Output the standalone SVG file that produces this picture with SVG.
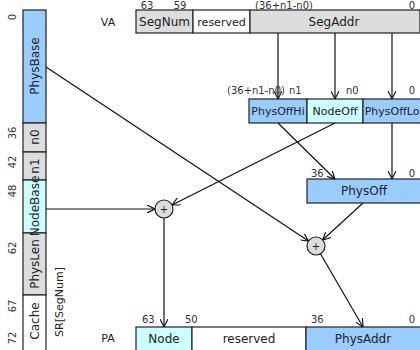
<svg xmlns="http://www.w3.org/2000/svg" width="420" height="350" viewBox="0 0 420 350">
<style>
  .box{stroke:#222;stroke-width:1.2}
  .blue{fill:#99CCFF}
  .cyan{fill:#CCFFFF}
  .grey{fill:#DDDDDD}
  .white{fill:#FFFFFF}
  text{font-family:"DejaVu Sans","Liberation Sans",sans-serif;fill:#222}
  .lbl{font-size:12px;text-anchor:middle;dominant-baseline:central}
  .sm{font-size:11px}
  .bit{font-size:10px;fill:#333}
  .mid{text-anchor:middle}
  .conn{stroke:#111;stroke-width:1.2;fill:none;marker-end:url(#arr)}
  .op{fill:#DDDDDD;stroke:#222;stroke-width:1.2}
</style>
<defs>
  <marker id="arr" viewBox="0 0 10 10" refX="10" refY="5" markerWidth="8" markerHeight="8" markerUnits="userSpaceOnUse" orient="auto">
    <path d="M0,0 L10,5 L0,10" fill="none" stroke="#111" stroke-width="1.4"/>
  </marker>
</defs>
<rect width="420" height="350" fill="#fff"/>

<g id="sr">
  <rect class="box blue" x="23" y="10" width="23" height="113"/>
  <rect class="box grey" x="23" y="123" width="23" height="29"/>
  <rect class="box grey" x="23" y="152" width="23" height="28"/>
  <rect class="box cyan" x="23" y="180" width="23" height="53"/>
  <rect class="box grey" x="23" y="233" width="23" height="62"/>
  <rect class="box white" x="23" y="295" width="23" height="58"/>
  <text class="lbl" transform="translate(35,66) rotate(-90)">PhysBase</text>
  <text class="lbl" transform="translate(35,137) rotate(-90)">n0</text>
  <text class="lbl" transform="translate(35,166) rotate(-90)">n1</text>
  <text class="lbl" transform="translate(35,206) rotate(-90)">NodeBase</text>
  <text class="lbl" transform="translate(35,264) rotate(-90)">PhysLen</text>
  <text class="lbl" transform="translate(35,321) rotate(-90)">Cache</text>
  <g>
    <text class="bit mid" transform="translate(16,17) rotate(-90)">0</text>
    <text class="bit mid" transform="translate(16,133) rotate(-90)">36</text>
    <text class="bit mid" transform="translate(16,162) rotate(-90)">42</text>
    <text class="bit mid" transform="translate(16,191) rotate(-90)">48</text>
    <text class="bit mid" transform="translate(16,248) rotate(-90)">62</text>
    <text class="bit mid" transform="translate(16,306) rotate(-90)">67</text>
    <text class="bit mid" transform="translate(16,338) rotate(-90)">72</text>
  </g>
  <text class="lbl" style="font-size:11px" transform="translate(59,302) rotate(-90)">SR[SegNum]</text>
</g>

<g id="va">
  <text x="108" y="22" class="mid" style="font-size:11px;dominant-baseline:central">VA</text>
  <rect class="box grey" x="136" y="10" width="57" height="23"/>
  <rect class="box white" x="193" y="10" width="57" height="23"/>
  <rect class="box grey" x="250" y="10" width="170" height="23"/>
  <text class="lbl" x="164.5" y="22">SegNum</text>
  <text class="lbl sm" x="221.5" y="22">reserved</text>
  <text class="lbl" x="334" y="22">SegAddr</text>
  <text class="bit mid" x="147" y="8.5">63</text>
  <text class="bit mid" x="180" y="8.5">59</text>
  <text class="bit" x="255" y="8.5">(36+n1-n0)</text>
  <text class="bit mid" x="412" y="8.5">0</text>
</g>

<g id="offsets">
  <rect class="box blue" x="249" y="99" width="58" height="24"/>
  <rect class="box cyan" x="307" y="99" width="56" height="24"/>
  <rect class="box blue" x="363" y="99" width="60" height="24"/>
  <text class="lbl sm" x="278" y="111">PhysOffHi</text>
  <text class="lbl sm" x="335" y="111">NodeOff</text>
  <text class="lbl sm" x="392" y="111">PhysOffLo</text>
  <text class="bit" x="227" y="94">(36+n1-n0)</text>
  <text class="bit" x="289" y="94">n1</text>
  <text class="bit" x="346" y="94">n0</text>
  <text class="bit mid" x="412" y="94">0</text>
</g>

<g id="physoff">
  <rect class="box blue" x="307" y="179" width="116" height="24"/>
  <text class="lbl" x="364" y="191">PhysOff</text>
  <text class="bit" x="311" y="177">36</text>
  <text class="bit mid" x="412" y="177">0</text>
</g>

<g id="add1">
  <circle class="op" cx="164" cy="209" r="9"/>
  <text x="164" y="209" class="mid" style="font-size:10px;dominant-baseline:central">+</text>
</g>
<g id="add2">
  <circle class="op" cx="316" cy="246" r="9"/>
  <text x="316" y="246" class="mid" style="font-size:10px;dominant-baseline:central">+</text>
</g>

<g id="pa">
  <text x="108" y="338" class="mid" style="font-size:11px;dominant-baseline:central">PA</text>
  <rect class="box cyan" x="136" y="327" width="56" height="26"/>
  <rect class="box white" x="192" y="327" width="114" height="26"/>
  <rect class="box blue" x="306" y="327" width="117" height="26"/>
  <text class="lbl" x="164" y="339">Node</text>
  <text class="lbl" x="249" y="339">reserved</text>
  <text class="lbl" x="363" y="339">PhysAddr</text>
  <text class="bit" x="142" y="323">63</text>
  <text class="bit" x="185" y="323">50</text>
  <text class="bit" x="311" y="323">36</text>
  <text class="bit mid" x="412" y="323">0</text>
</g>

<g id="connectors">
  <line class="conn" x1="278" y1="33" x2="278" y2="99"/>
  <line class="conn" x1="335" y1="33" x2="335" y2="99"/>
  <line class="conn" x1="392" y1="33" x2="392" y2="99"/>
  <line class="conn" x1="278" y1="123" x2="335" y2="179"/>
  <line class="conn" x1="392" y1="123" x2="392" y2="179"/>
  <line class="conn" x1="335" y1="123" x2="172" y2="205"/>
  <line class="conn" x1="46" y1="209" x2="155" y2="209"/>
  <line class="conn" x1="46" y1="67" x2="308.5" y2="241"/>
  <line class="conn" x1="363" y1="203" x2="322.6" y2="240"/>
  <line class="conn" x1="164" y1="218" x2="164" y2="327"/>
  <line class="conn" x1="320.5" y1="253.8" x2="363" y2="327"/>
</g>
</svg>
